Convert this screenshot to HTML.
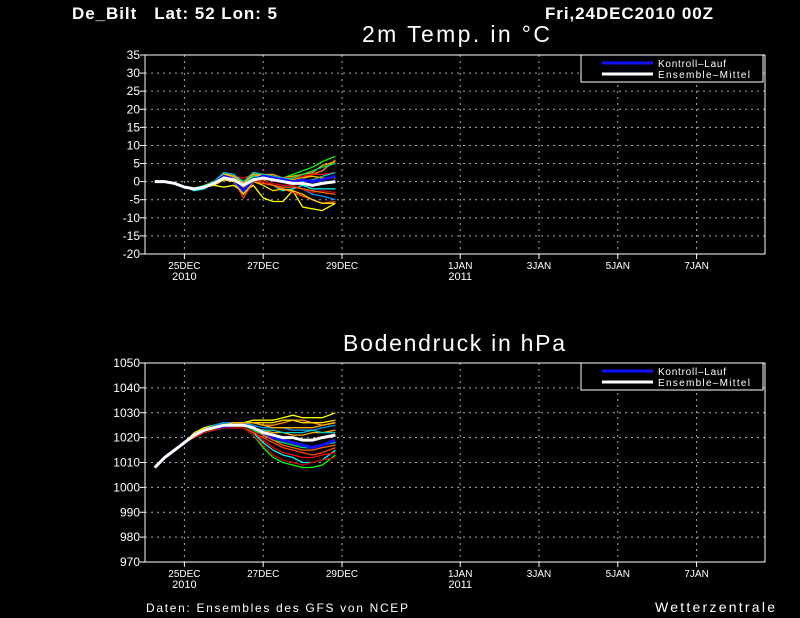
<!DOCTYPE html>
<html><head><meta charset="utf-8"><style>
body{margin:0;background:#000;width:800px;height:618px;overflow:hidden}
svg{display:block;font-family:"Liberation Sans",sans-serif}
</style></head><body>
<svg id="s" width="800" height="618">
<text x="72" y="19" fill="#fff" font-size="17" font-weight="bold" textLength="205" lengthAdjust="spacing" style="white-space:pre">De_Bilt   Lat: 52 Lon: 5</text>
<text x="545" y="19" fill="#fff" font-size="17" font-weight="bold" textLength="168">Fri,24DEC2010 00Z</text>
<text x="362" y="42" fill="#fff" font-size="23" textLength="188">2m Temp. in °C</text>
<text x="343" y="351" fill="#fff" font-size="23" textLength="222">Bodendruck in hPa</text>
<text x="146" y="612" fill="#fff" font-size="12" textLength="262">Daten: Ensembles des GFS von NCEP</text>
<text x="655" y="612" fill="#fff" font-size="14" textLength="120">Wetterzentrale</text>
</svg>
<script>
const dayTicks=[1,3,5,8,10,12,14];
const dayLabels=["25DEC","27DEC","29DEC","1JAN","3JAN","5JAN","7JAN"];
const yearLabels={"25DEC":"2010","1JAN":"2011"};
const hours=[6,12,18,24,30,36,42,48,54,60,66,72,78,84,90,96,102,108,116];
const tempTicks=[35,30,25,20,15,10,5,0,-5,-10,-15,-20];
const presTicks=[1050,1040,1030,1020,1010,1000,990,980,970];
const tempMean=[0,0,-0.5,-1.5,-2,-1.5,-0.5,1,0.5,-1,0.5,1,0.5,0,-0.5,-0.5,-1,-0.5,0];
const tempCtrl=[0,0,-0.5,-1.5,-2,-1.5,-0.5,1.5,0.5,-2.5,0.5,1.5,1,0.5,0,0.5,0,0.5,1.5];
const tempMembers=[
[0,0,-0.5,-1.5,-2,-1.5,-1,-1.5,-1,-3,-1,-4.5,-5.5,-5.5,-2.5,-7,-7.5,-8,-6],
[0,0,-0.5,-1.5,-2,-1,0,2,1.5,0,2.5,2,1.5,1,2,3,4,5.5,7],
[0,0,-0.5,-1.5,-2.5,-2,-0.5,1,0,-3,1,0.5,-1,-2.5,-2,-1,-2,-2,-2],
[0,0,-0.5,-1.5,-2,-1.5,0,2,1,-1,2,2,2,1,1,1,2,3,6],
[0,0,-0.5,-1.5,-2,-1.5,-0.5,2.5,1.5,-2,2.5,2,1.5,1,1.5,2,2.5,4.5,5.5],
[0,0,-0.5,-1.5,-2,-1.5,-0.5,1,0.5,-4.5,0,0.5,-1,-2,-3,-4,-5,-6,-5.5],
[0,0,-0.5,-1.5,-2,-1.5,-0.5,1.5,1,-1,1.5,1,0.5,0,-1,-2,-3.5,-4,-5],
[0,0,-0.5,-1.5,-2,-1.5,-0.5,1.5,1.5,1,2,1.5,1.5,1,1,1.5,2,2,2.5],
[0,0,-0.5,-1.5,-2,-1.5,-1,0.5,0,-3.5,0,-1,-2.5,-2,-2.5,-3.5,-5,-6,-6],
[0,0,-0.5,-1.5,-2,-1.5,-0.5,2,1.5,-0.5,1.5,1.5,1,0.5,1,2,3,4,5],
[0,0,-0.5,-1.5,-2,-1.5,-0.5,1,0.5,-2,0.5,0,-0.5,-1,-1,-2,-3,-2.5,-3],
[0,0,-0.5,-1.5,-2,-1.5,0,2.5,2,0,2.5,2,1.5,1,0.5,0,0.5,1.5,2.5],
[0,0,-0.5,-1.5,-2,-1.5,-0.5,1,0.5,-2.5,0,-0.5,-1,-1.5,-1.5,-2,-2.5,-3,-3.5],
[0,0,-0.5,-1.5,-2,-1.5,-0.5,2,1.5,-0.5,2,1.5,1,0.5,0.5,1,1.5,1,1]];
const presMean=[1008,1012,1015,1018,1021,1023,1024,1025,1025,1025,1024,1022,1021,1020,1020,1019,1019,1020,1021];
const presCtrl=[1008,1012,1015,1018,1021,1023,1024,1024.5,1025,1025,1024,1022,1020,1019,1018,1017,1016,1017,1019];
const presMembers=[
[1008,1012,1015,1018,1022,1024,1025,1026,1026,1026,1027,1027,1027,1028,1029,1028,1028,1028,1030],
[1008,1012,1015,1018,1021,1023,1024,1024,1024,1024,1021,1016,1012,1010,1009,1008,1008,1009,1013],
[1008,1012,1015,1018,1021,1022,1023,1024,1024,1024,1022,1018,1015,1013,1012,1010,1010,1011,1015],
[1008,1012,1015,1018,1021,1023,1024,1025,1025,1026,1026,1025,1025,1026,1027,1027,1026,1025,1026],
[1008,1012,1015,1018,1021,1023,1024,1025,1025,1025,1024,1023,1022,1022,1021,1021,1022,1022,1023],
[1008,1012,1015,1018,1020,1022,1023,1024,1024,1024,1022,1020,1018,1016,1015,1014,1013,1014,1016],
[1008,1012,1015,1018,1021,1023,1025,1026,1026,1026,1025,1024,1024,1024,1023,1023,1023,1024,1025],
[1008,1012,1015,1018,1021,1023,1024,1025,1025,1025,1023,1019,1016,1014,1013,1012,1012,1013,1014],
[1008,1012,1015,1018,1021,1023,1024,1025,1026,1026,1026,1026,1026,1027,1027,1026,1026,1026,1027],
[1008,1012,1015,1018,1021,1023,1024,1025,1025,1025,1023,1021,1019,1018,1017,1016,1016,1017,1018],
[1008,1012,1015,1018,1021,1022,1023,1024,1024,1024,1021,1017,1013,1011,1010,1009,1010,1011,1012],
[1008,1012,1015,1018,1021,1023,1024,1025,1025,1025,1024,1023,1023,1022,1022,1022,1023,1022,1022],
[1008,1012,1015,1018,1021,1023,1024,1025,1025,1025,1024,1021,1019,1017,1016,1015,1015,1016,1017],
[1008,1012,1015,1018,1021,1023,1024,1025,1026,1026,1026,1025,1024,1024,1024,1024,1024,1025,1026]];
const memberColors=["#ffff00","#00ff00","#00ffff","#ff8c00","#ffa500","#ff4500","#0096ff","#ff0000","#ffd700","#00e060","#c80000","#00c8c8","#ff6400","#ffb400"];

const S=document.getElementById('s');const NS="http://www.w3.org/2000/svg";
function mk(t,a,p){const e=document.createElementNS(NS,t);for(const k in a)e.setAttribute(k,a[k]);(p||S).appendChild(e);return e;}
const X0=145,X1=765,PXD=39.4;
function xs(h){return X0+h/24*PXD;}
function chart(top,bot,vmax,vmin,ticks,mean,ctrl,members,name){
  const g=mk('g',{});
  
  
  const ys=v=>top+(vmax-v)/(vmax-vmin)*(bot-top);
  ticks.forEach(t=>{const y=ys(t);
    if(t!==vmax&&t!==vmin){const l=mk('line',{x1:X0,x2:X1,y1:y,y2:y,stroke:'#aaa','stroke-dasharray':'2,4'},g);
    }
    mk('line',{x1:X0-5,x2:X0,y1:y,y2:y,stroke:'#fff'},g);
    const tx=mk('text',{x:X0-5,y:y+4,fill:'#fff','font-size':12,'text-anchor':'end'},g);tx.textContent=t;
    });
  dayTicks.forEach((d,i)=>{const x=X0+d*PXD;
    const l=mk('line',{x1:x,x2:x,y1:top,y2:bot,stroke:'#aaa','stroke-dasharray':'2,4'},g);
    
    mk('line',{x1:x,x2:x,y1:bot,y2:bot+5,stroke:'#fff'},g);
    const t=mk('text',{x:x,y:bot+15,fill:'#fff','font-size':10,'text-anchor':'middle'},g);t.textContent=dayLabels[i];
    
    if(yearLabels[dayLabels[i]]){const y2=mk('text',{x:x,y:bot+26,fill:'#fff','font-size':11,'text-anchor':'middle'},g);y2.textContent=yearLabels[dayLabels[i]];
    }});
  const f=mk('rect',{x:X0,y:top,width:X1-X0,height:bot-top,fill:'none',stroke:'#fff'},g);
  
  const pts=a=>a.map((v,i)=>xs(hours[i]).toFixed(1)+','+ys(v).toFixed(1)).join(' ');
  members.forEach((m,i)=>{const p=mk('polyline',{points:pts(m),fill:'none',stroke:memberColors[i%memberColors.length],'stroke-width':1.3},g);
    });
  const c=mk('polyline',{points:pts(ctrl),fill:'none',stroke:'#1010ff','stroke-width':3},g);
  
  const mm=mk('polyline',{points:pts(mean),fill:'none',stroke:'#fff','stroke-width':3},g);
  
  const lg=mk('g',{},g);
  mk('rect',{x:581,y:top,width:182,height:27,fill:'#000',stroke:'#fff'},lg);
  mk('line',{x1:602,x2:653,y1:top+8,y2:top+8,stroke:'#1010ff','stroke-width':3},lg);
  mk('line',{x1:602,x2:653,y1:top+19,y2:top+19,stroke:'#fff','stroke-width':3},lg);
  const a=mk('text',{x:658,y:top+12,fill:'#fff','font-size':10,textLength:68},lg);a.textContent='Kontroll\u2013Lauf';
  
  const b=mk('text',{x:658,y:top+23,fill:'#fff','font-size':10,textLength:92},lg);b.textContent='Ensemble\u2013Mittel';
  
}
chart(55,254,35,-20,tempTicks,tempMean,tempCtrl,tempMembers,'temperature');
chart(363,562,1050,970,presTicks,presMean,presCtrl,presMembers,'pressure');
</script>
</body></html>
